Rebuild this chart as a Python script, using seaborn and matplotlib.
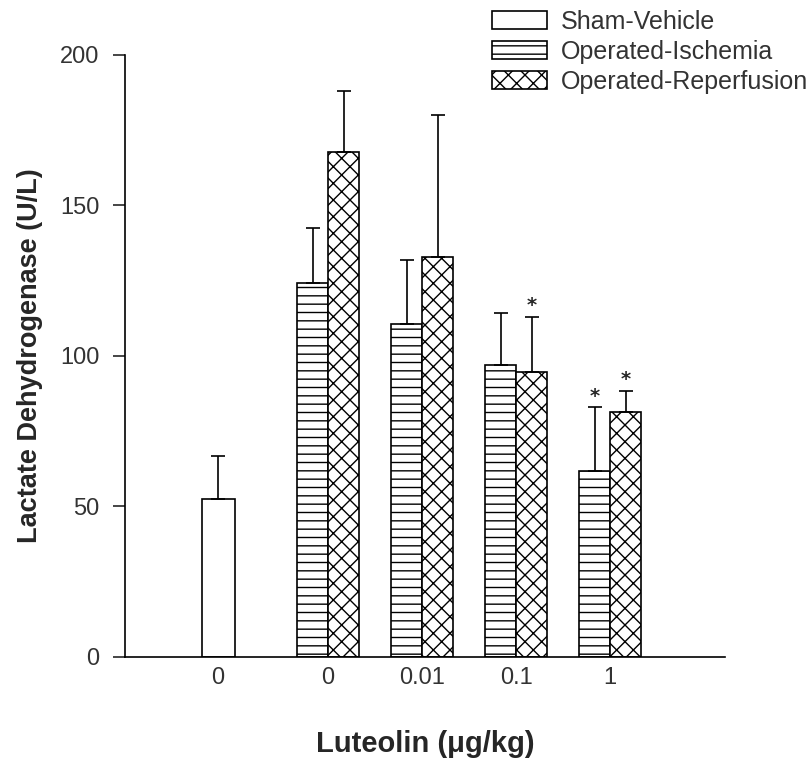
import numpy as np
import pandas as pd
import seaborn as sns
import matplotlib.pyplot as plt
from matplotlib.patches import Patch

# values
group_labels = ["0", "0", "0.01", "0.1", "1"]
sham_mean = [52.5]
sham_err = [14.3]
isch_mean = [124.2, 110.6, 97.0, 61.8]
isch_err = [18.3, 21.2, 17.2, 21.2]
rep_mean = [167.9, 132.9, 94.8, 81.4]
rep_err = [20.2, 47.1, 18.2, 7.0]
isch_sig = [False, False, False, True]
rep_sig = [False, False, True, True]
series_names = ["Sham-Vehicle", "Operated-Ischemia", "Operated-Reperfusion"]

# layout: sham group sits a bit further left than the regular spacing
sham_pos = [-1.17]
group_pos = [0, 1, 2, 3]

sns.set_style("ticks")
plt.rcParams['font.family'] = ['Liberation Sans', 'DejaVu Sans']
plt.rcParams['hatch.linewidth'] = 1.0

df = pd.DataFrame({
    "pos": group_pos * 2,
    "value": isch_mean + rep_mean,
    "series": [series_names[1]] * 4 + [series_names[2]] * 4,
})

fig = plt.figure(figsize=(8.09, 7.63), dpi=100)
ax = fig.add_axes([0.1545, 0.139, 0.7417, 0.789])

sns.barplot(x=sham_pos, y=sham_mean, native_scale=True, orient="x", width=0.35,
            color="white", edgecolor="black", linewidth=1.2, errorbar=None,
            saturation=1, ax=ax)
sns.barplot(data=df, x="pos", y="value", hue="series", hue_order=series_names[1:],
            native_scale=True, orient="x", width=0.66, dodge=True,
            palette={series_names[1]: "white", series_names[2]: "white"},
            edgecolor="black", linewidth=1.2, errorbar=None, saturation=1,
            legend=False, ax=ax)

hatches = ["", "--", "xx"]
errs = [sham_err, isch_err, rep_err]
sigs = [[False], isch_sig, rep_sig]
for cont, h, err, sig in zip(ax.containers, hatches, errs, sigs):
    xs, ys = [], []
    for p in cont.patches:
        p.set_hatch(h)
        xs.append(p.get_x() + p.get_width() / 2)
        ys.append(p.get_height())
    ax.errorbar(xs, ys, yerr=[np.zeros(len(err)), err], fmt="none", ecolor="black",
                elinewidth=1.2, capsize=4.7, capthick=1.2, zorder=1)
    # significance stars
    for x, y, e, s in zip(xs, ys, err, sig):
        if s:
            ax.annotate("*", (x, y + e), xytext=(0, 4), textcoords="offset points",
                        ha="center", va="baseline", fontsize=14, fontweight="bold",
                        family="DejaVu Sans")

ax.set_xlim(-2.16, 4.22)
ax.set_ylim(0, 200)
ax.set_yticks([0, 50, 100, 150, 200])
ax.set_xticks(sham_pos + group_pos)
ax.set_xticklabels(group_labels)
ax.tick_params(axis="x", length=0, pad=7.5, labelsize=17, labelcolor="#333333")
ax.tick_params(axis="y", length=8.6, width=1.2, pad=10, labelsize=17,
               labelcolor="#333333", direction="out")
sns.despine(ax=ax)
for s in ["left", "bottom"]:
    ax.spines[s].set_linewidth(1.2)
    ax.spines[s].set_color("black")

ax.set_xlabel("Luteolin (\u03bcg/kg)", fontsize=21, fontweight="bold", labelpad=29)
ax.set_ylabel("Lactate Dehydrogenase (U/L)", fontsize=19.5, fontweight="bold", labelpad=12)

handles = [Patch(facecolor="white", edgecolor="black", hatch=h, linewidth=1.2)
           for h in hatches]
fig.legend(handles, series_names, loc="upper left", bbox_to_anchor=(0.608, 0.987),
           frameon=False, fontsize=18, handlelength=2.2, handleheight=0.76,
           labelspacing=0.24, handletextpad=0.56, borderpad=0, borderaxespad=0,
           labelcolor="#333333")

plt.savefig("out.png", dpi=100)
